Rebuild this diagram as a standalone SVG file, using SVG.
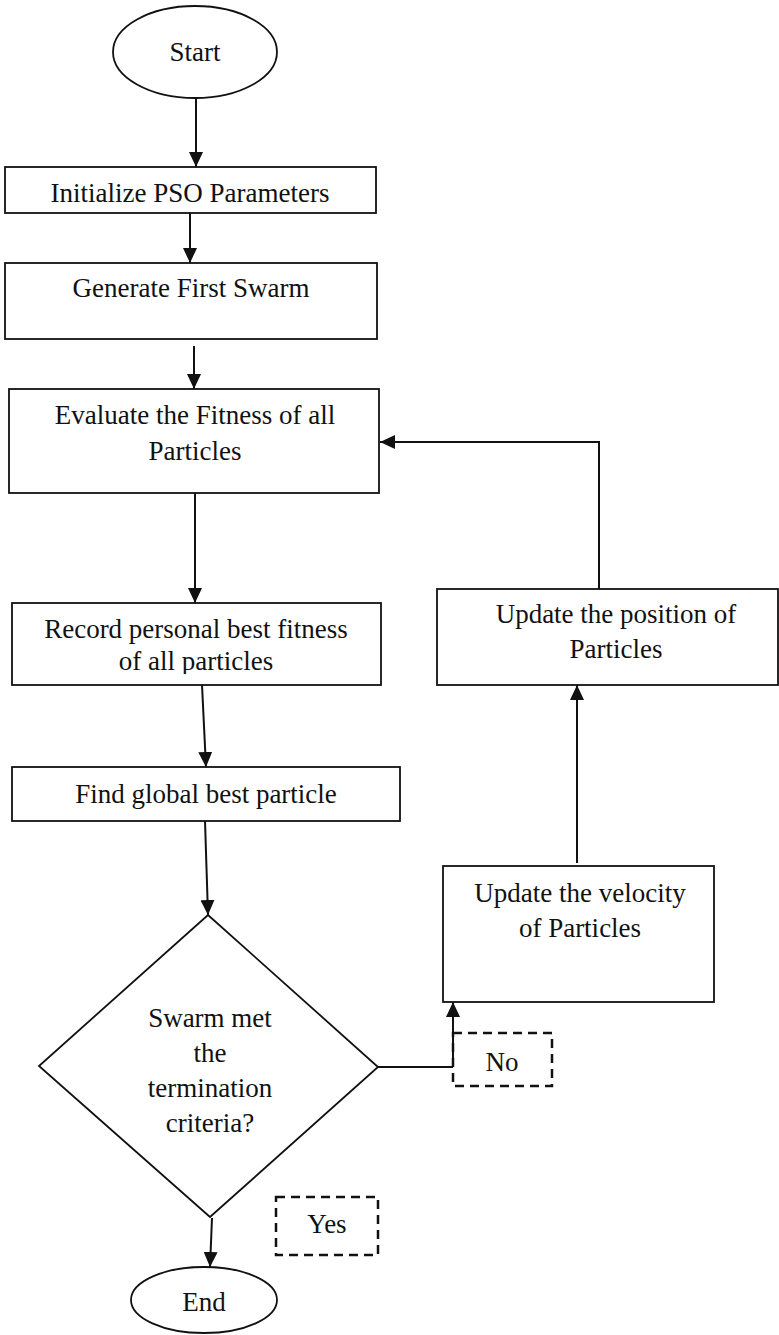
<svg xmlns="http://www.w3.org/2000/svg" width="779" height="1335" viewBox="0 0 779 1335">
<style>
.n{fill:#fff;stroke:#111;stroke-width:1.8}
.t{font-family:"Liberation Serif","Times New Roman",serif;font-size:27px;fill:#111;text-anchor:middle}
.c{fill:none;stroke:#111;stroke-width:2}
.d{fill:#fff;stroke:#111;stroke-width:2.5;stroke-dasharray:9,6}
</style>
<defs>
<marker id="ah" markerUnits="userSpaceOnUse" markerWidth="16" markerHeight="14" refX="15" refY="7" orient="auto">
<path d="M0,0 L15,7 L0,14 z" fill="#111"/>
</marker>
<clipPath id="recclip"><rect x="12" y="603" width="370" height="71"/></clipPath>
</defs>
<rect width="779" height="1335" fill="#fff"/>
<g id="start">
<ellipse class="n" cx="195" cy="52" rx="82" ry="46"/>
<text class="t" x="195" y="61">Start</text>
</g>
<g id="init">
<rect class="n" x="5" y="167" width="371" height="46"/>
<text class="t" x="190" y="202">Initialize PSO Parameters</text>
</g>
<g id="generate">
<rect class="n" x="5" y="263" width="372" height="76"/>
<text class="t" x="191" y="297">Generate First Swarm</text>
</g>
<g id="evaluate">
<rect class="n" x="9" y="389" width="370" height="104"/>
<text class="t" x="195" y="424">Evaluate the Fitness of all</text>
<text class="t" x="195" y="460">Particles</text>
</g>
<g id="record">
<rect class="n" x="12" y="603" width="369" height="82"/>
<g clip-path="url(#recclip)">
<text class="t" x="196" y="638">Record personal best fitness</text>
<text class="t" x="196" y="670">of all particles</text>
</g>
</g>
<g id="findbest">
<rect class="n" x="12" y="767" width="388" height="54"/>
<text class="t" x="206" y="803">Find global best particle</text>
</g>
<g id="decision">
<polygon class="n" points="208,915 378,1067 210,1217 39,1066"/>
<text class="t" x="210" y="1027">Swarm met</text>
<text class="t" x="210" y="1062">the</text>
<text class="t" x="210" y="1097">termination</text>
<text class="t" x="210" y="1132">criteria?</text>
</g>
<g id="end">
<ellipse class="n" cx="204" cy="1300" rx="73" ry="33"/>
<text class="t" x="204" y="1311">End</text>
</g>
<g id="velocity">
<rect class="n" x="443" y="866" width="271" height="136"/>
<text class="t" x="580" y="902">Update the velocity</text>
<text class="t" x="580" y="937">of Particles</text>
</g>
<g id="position">
<rect class="n" x="437" y="589" width="341" height="96"/>
<text class="t" x="616" y="623">Update the position of</text>
<text class="t" x="616" y="658">Particles</text>
</g>
<g id="connectors">
<path class="c" d="M196,98 L196,167" marker-end="url(#ah)"/>
<path class="c" d="M190,213 L190,263" marker-end="url(#ah)"/>
<path class="c" d="M194,346 L194,389" marker-end="url(#ah)"/>
<path class="c" d="M195,493 L195,603" marker-end="url(#ah)"/>
<path class="c" d="M202,685 L206,767" marker-end="url(#ah)"/>
<path class="c" d="M205,821 L208,915" marker-end="url(#ah)"/>
<path class="c" d="M212,1218 L210,1267" marker-end="url(#ah)"/>
<path class="c" d="M577,863 L577,685" marker-end="url(#ah)"/>
<path class="c" d="M599,589 L599,442 L380,442" marker-end="url(#ah)"/>
<path class="c" d="M378,1067 L453,1067"/>
</g>
<g id="label-no">
<rect class="d" x="453" y="1033" width="99" height="53"/>
<text class="t" x="502" y="1071">No</text>
</g>
<g id="label-yes">
<rect class="d" x="276" y="1197" width="102" height="58"/>
<text class="t" x="327" y="1233">Yes</text>
</g>
<g id="connector-no-up">
<path class="c" d="M453,1067 L453,1002" marker-end="url(#ah)"/>
</g>
</svg>
